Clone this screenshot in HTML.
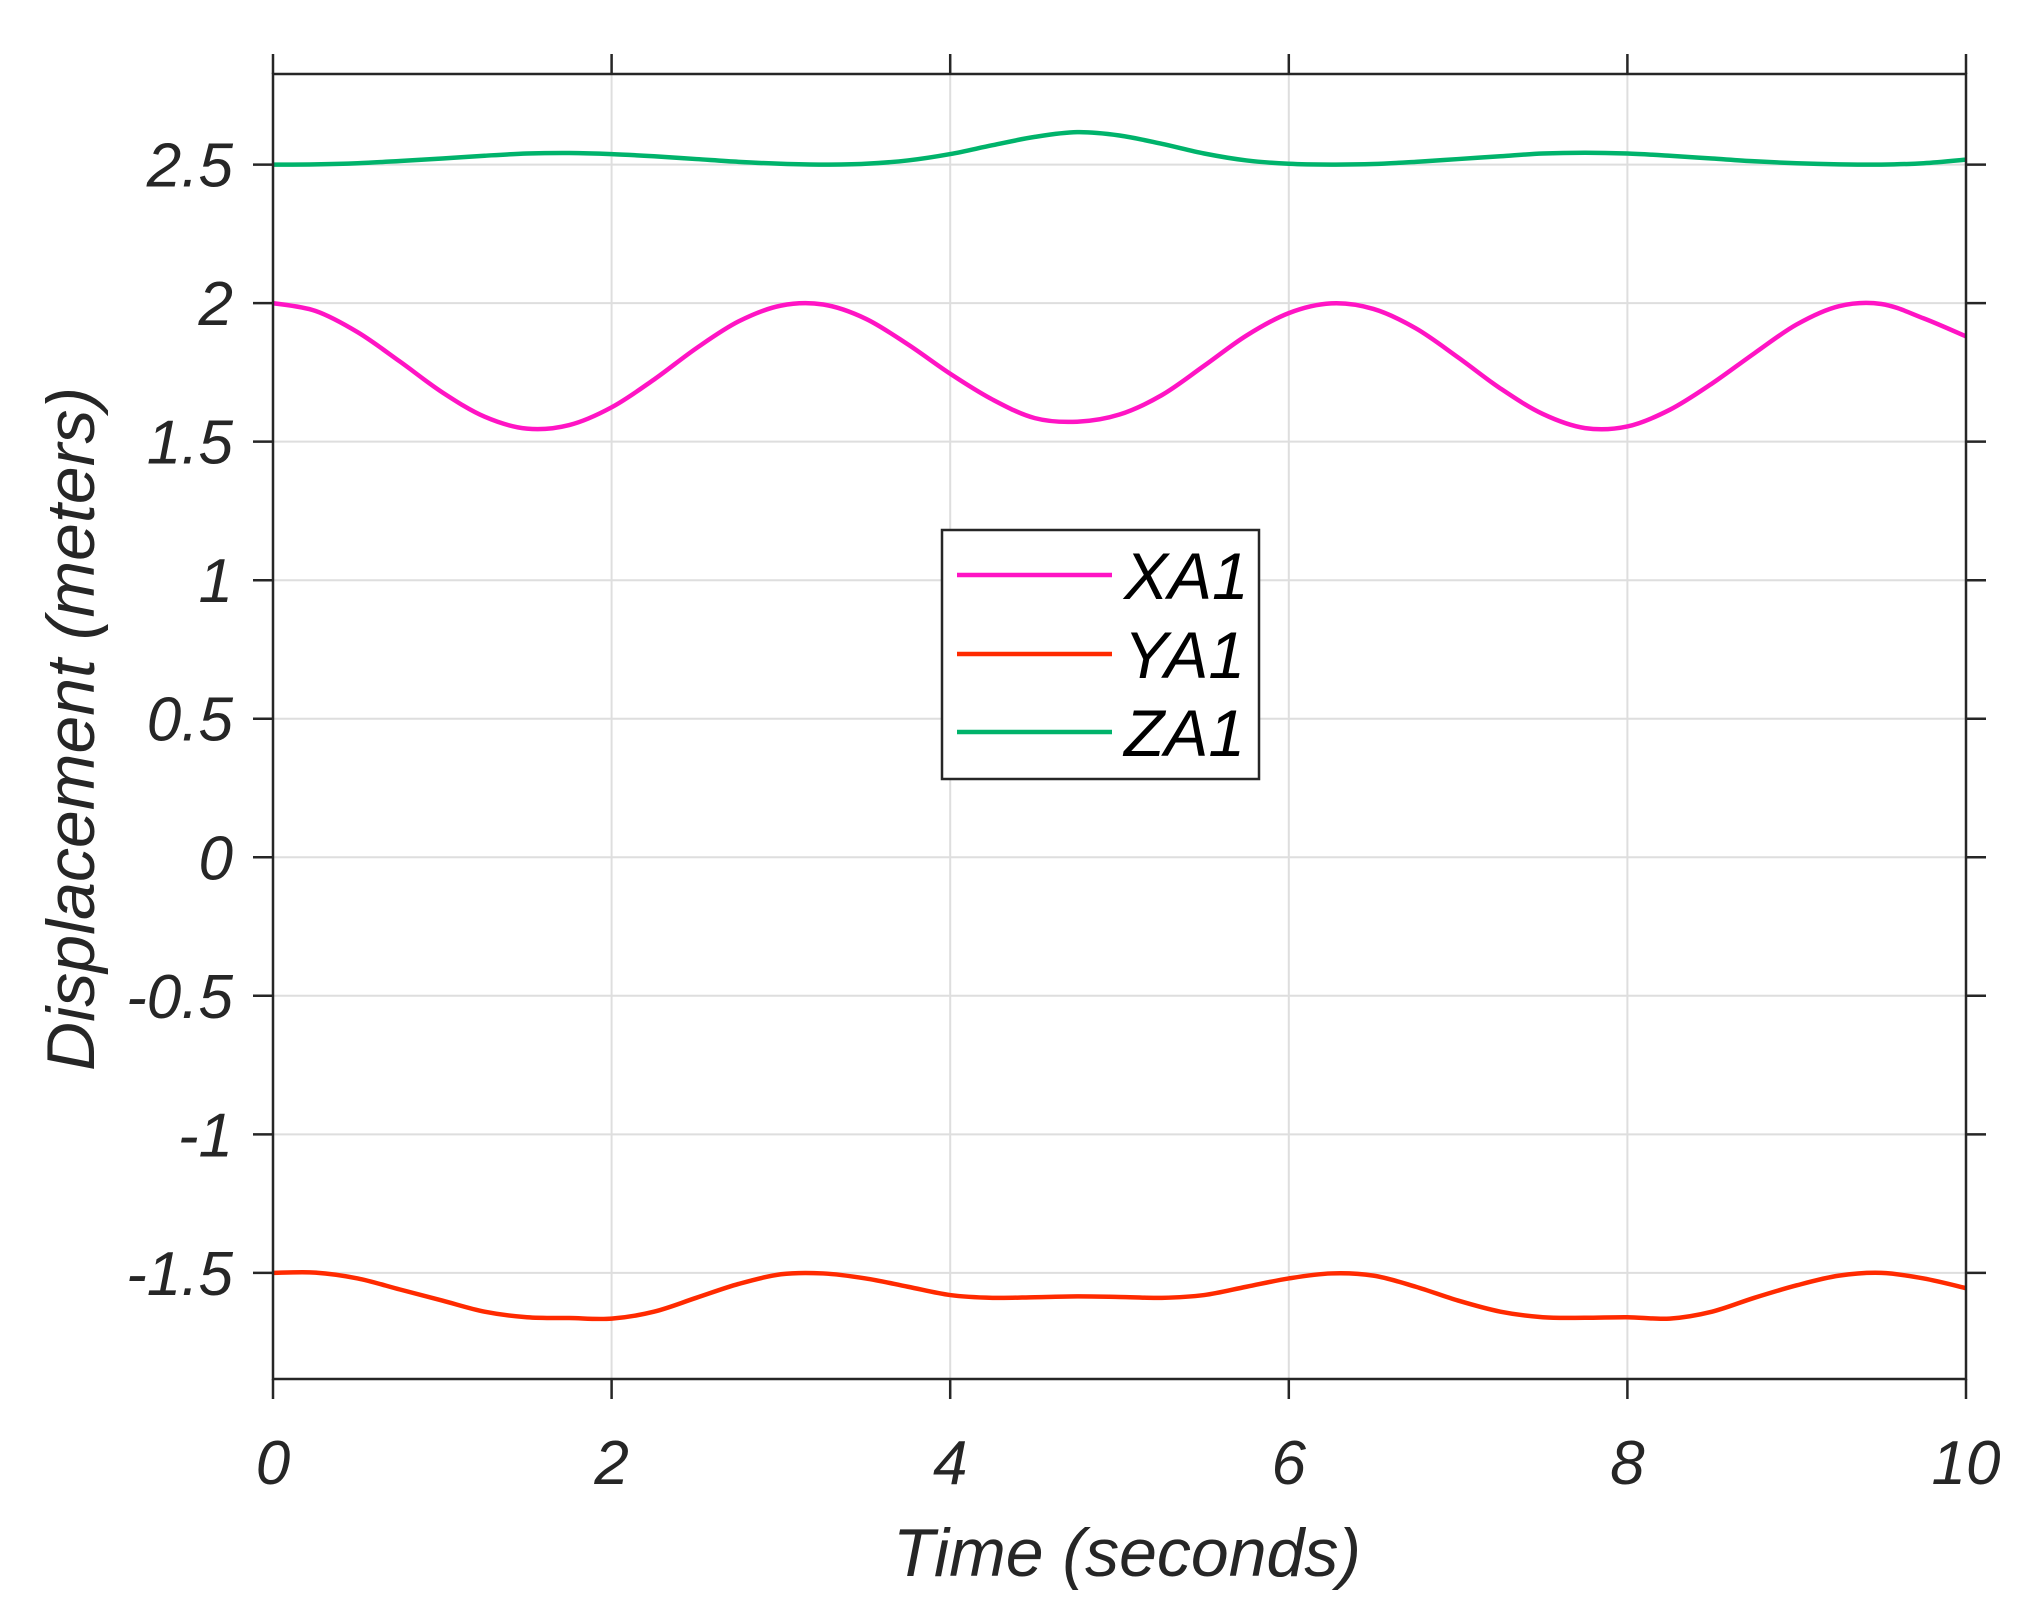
<!DOCTYPE html>
<html><head><meta charset="utf-8"><style>
html,body{margin:0;padding:0;background:#fff;}
svg{display:block;font-family:"Liberation Sans",Arial,sans-serif;}
</style></head><body>
<svg id="chart" width="2030" height="1617" viewBox="0 0 2030 1617" xmlns="http://www.w3.org/2000/svg">
<g id="grid"></g>
<g id="series"></g>
<g id="axes"></g>
<text x="1127" y="1576" font-size="68" font-style="italic" fill="#262626" text-anchor="middle">Time (seconds)</text>
<text transform="translate(94,729) rotate(-90)" font-size="68" font-style="italic" fill="#262626" text-anchor="middle">Displacement (meters)</text>
<g>
<rect x="942" y="530" width="317" height="249" fill="#fff" stroke="#262626" stroke-width="2.5"/>
<line x1="957" y1="575" x2="1112" y2="575" stroke="#ff14c4" stroke-width="4.5"/>
<text x="1124" y="599" font-size="66" font-style="italic" fill="#000">XA1</text>
<line x1="957" y1="654" x2="1112" y2="654" stroke="#ff2a00" stroke-width="4.5"/>
<text x="1124" y="678" font-size="66" font-style="italic" fill="#000">YA1</text>
<line x1="957" y1="732" x2="1112" y2="732" stroke="#00b36b" stroke-width="4.5"/>
<text x="1124" y="756" font-size="66" font-style="italic" fill="#000">ZA1</text>
</g>
</svg>
<script>
const times = [0,0.25,0.5,0.75,1,1.25,1.5,1.75,2,2.25,2.5,2.75,3,3.25,3.5,3.75,4,4.25,4.5,4.75,5,5.25,5.5,5.75,6,6.25,6.5,6.75,7,7.25,7.5,7.75,8,8.25,8.5,8.75,9,9.25,9.5,9.75,10];
const xa1 = [2.0,1.972,1.895,1.789,1.678,1.590,1.547,1.560,1.624,1.724,1.837,1.934,1.991,1.995,1.944,1.851,1.745,1.652,1.585,1.572,1.598,1.668,1.774,1.883,1.964,1.999,1.979,1.909,1.804,1.692,1.600,1.549,1.555,1.615,1.710,1.819,1.923,1.989,1.997,1.945,1.88];
const ya1 = [-1.5,-1.499,-1.52,-1.56,-1.60,-1.64,-1.66,-1.663,-1.665,-1.64,-1.59,-1.54,-1.505,-1.502,-1.52,-1.55,-1.58,-1.59,-1.588,-1.585,-1.587,-1.59,-1.58,-1.55,-1.52,-1.502,-1.51,-1.55,-1.6,-1.64,-1.66,-1.662,-1.66,-1.665,-1.64,-1.59,-1.545,-1.51,-1.5,-1.52,-1.555];
const za1 = [2.5,2.501,2.505,2.513,2.522,2.532,2.54,2.542,2.538,2.53,2.52,2.51,2.503,2.5,2.503,2.515,2.538,2.57,2.6,2.617,2.605,2.575,2.54,2.515,2.503,2.5,2.502,2.51,2.52,2.53,2.54,2.543,2.54,2.532,2.522,2.512,2.505,2.501,2.5,2.505,2.518];
const xTicks = [0,2,4,6,8,10];
const xTickLabels = ["0","2","4","6","8","10"];
const yTicks = [-1.5,-1,-0.5,0,0.5,1,1.5,2,2.5];
const yTickLabels = ["-1.5","-1","-0.5","0","0.5","1","1.5","2","2.5"];
const xMin=0,xMax=10,yMin=-1.883,yMax=2.827;
const L=273,R=1966,T=74,B=1379;
function sx(v){return L+(v-xMin)/(xMax-xMin)*(R-L);}
function sy(v){return B-(v-yMin)/(yMax-yMin)*(B-T);}
const NS="http://www.w3.org/2000/svg";
function mk(tag,attrs,parent){const e=document.createElementNS(NS,tag);for(const k in attrs)e.setAttribute(k,attrs[k]);parent.appendChild(e);return e;}
const grid=document.getElementById('grid'),axes=document.getElementById('axes'),series=document.getElementById('series');
xTicks.forEach((t,i)=>{
  const x=sx(t);
  const g=mk('line',{x1:x,y1:T,x2:x,y2:B,stroke:'#dedede','stroke-width':2},grid);
  
  
  const tb=mk('line',{x1:x,y1:B,x2:x,y2:B+20,stroke:'#262626','stroke-width':2.5},axes);
  
  
  const tt=mk('line',{x1:x,y1:T,x2:x,y2:T-20,stroke:'#262626','stroke-width':2.5},axes);
  
  
  const lb=mk('text',{x:x,y:1484,'font-size':62,'font-style':'italic',fill:'#262626','text-anchor':'middle'},axes);
  lb.textContent=xTickLabels[i];
  
  
});
yTicks.forEach((v,i)=>{
  const y=sy(v);
  const g=mk('line',{x1:L,y1:y,x2:R,y2:y,stroke:'#dedede','stroke-width':2},grid);
  
  
  const tl=mk('line',{x1:L-20,y1:y,x2:L,y2:y,stroke:'#262626','stroke-width':2.5},axes);
  
  
  const tr=mk('line',{x1:R,y1:y,x2:R+20,y2:y,stroke:'#262626','stroke-width':2.5},axes);
  
  
  const lb=mk('text',{x:233,y:y+22,'font-size':62,'font-style':'italic',fill:'#262626','text-anchor':'end'},axes);
  lb.textContent=yTickLabels[i];
  
  
});
const frame=mk('rect',{x:L,y:T,width:R-L,height:B-T,fill:'none',stroke:'#262626','stroke-width':2.5},axes);


function pathFor(vals){
  const p=times.map((t,i)=>[sx(t),sy(vals[i])]);
  let d='M'+p[0][0]+','+p[0][1];
  for(let i=0;i<p.length-1;i++){
    const p0=p[Math.max(0,i-1)],p1=p[i],p2=p[i+1],p3=p[Math.min(p.length-1,i+2)];
    const c1x=p1[0]+(p2[0]-p0[0])/6,c1y=p1[1]+(p2[1]-p0[1])/6;
    const c2x=p2[0]-(p3[0]-p1[0])/6,c2y=p2[1]-(p3[1]-p1[1])/6;
    d+=' C'+c1x+','+c1y+' '+c2x+','+c2y+' '+p2[0]+','+p2[1];
  }
  return d;
}
const sX=mk('path',{d:pathFor(xa1),fill:'none',stroke:'#ff14c4','stroke-width':4.5,'stroke-linejoin':'round'},series);


const sY=mk('path',{d:pathFor(ya1),fill:'none',stroke:'#ff2a00','stroke-width':4.5,'stroke-linejoin':'round'},series);


const sZ=mk('path',{d:pathFor(za1),fill:'none',stroke:'#00b36b','stroke-width':4.5,'stroke-linejoin':'round'},series);


</script>
</body></html>
